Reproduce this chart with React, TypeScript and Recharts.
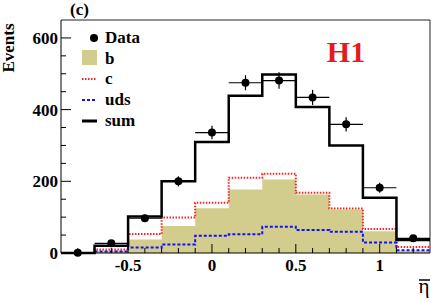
import {
  ComposedChart,
  Line,
  Area,
  Scatter,
  ErrorBar,
  XAxis,
  YAxis,
  ReferenceLine,
} from 'recharts'

// histogram bin edges (11 bins of width 0.2)
const BIN_EDGES = [-0.9, -0.7, -0.5, -0.3, -0.1, 0.1, 0.3, 0.5, 0.7, 0.9, 1.1, 1.3]

// per-bin contents
const SUM = [0, 20, 102, 200, 310, 439, 498, 407, 300, 154, 36]
const B = [0, 6, 38, 75, 125, 177, 205, 163, 121, 61, 6]
const C = [0, 10, 53, 99, 140, 210, 221, 168, 124, 67, 17]
const UDS = [0, 4, 15, 24, 48, 52, 73, 64, 59, 29, 8]

// data points at bin centres
const DATA_X = [-0.8, -0.6, -0.4, -0.2, 0, 0.2, 0.4, 0.6, 0.8, 1.0, 1.2]
const DATA_Y = [1, 27, 97, 200, 336, 475, 481, 434, 359, 182, 41]
const DATA_ERR = [1, 5, 10, 14, 19, 21, 23, 21, 20, 14, 6]
const X_HALF_WIDTH = 0.1

const X_TICKS = [-0.8, -0.7, -0.6, -0.5, -0.4, -0.3, -0.2, -0.1, 0, 0.1, 0.2, 0.3, 0.4, 0.5, 0.6, 0.7, 0.8, 0.9, 1.0, 1.1, 1.2]
const X_LABELS: Record<string, string> = { '-0.5': '-0.5', '0': '0', '0.5': '0.5', '1': '1' }
const Y_TICKS = [0, 50, 100, 150, 200, 250, 300, 350, 400, 450, 500, 550, 600]
const Y_LABELS: Record<string, string> = { '0': '0', '200': '200', '400': '400', '600': '600' }

const FONT = '"Liberation Serif", "DejaVu Serif", serif'
const B_COLOR = '#d3cd8d'
const C_COLOR = '#ff2020'
const UDS_COLOR = '#1010ff'
const H1_RED = '#e41b1b'

// step-histogram table: last edge repeats last bin so the step closes at 1.3
const histRows = BIN_EDGES.map((x, i) => {
  const k = Math.min(i, SUM.length - 1)
  return { x, sum: SUM[k], b: B[k], c: C[k], uds: UDS[k] }
})

const points = DATA_X.map((x, i) => ({ x, y: DATA_Y[i], ey: DATA_ERR[i], ex: X_HALF_WIDTH }))

function XTick(props: any) {
  const { x, y, payload } = props
  const key = String(Math.round(payload.value * 10) / 10)
  const label = X_LABELS[key]
  return (
    <g>
      <line x1={x} x2={x} y1={y} y2={y - (label ? 9 : 5)} stroke="#000" strokeWidth={1} />
      {label && (
        <text x={x} y={y + 18} textAnchor="middle" fontFamily={FONT} fontWeight="bold" fontSize={17} fill="#000">
          {label}
        </text>
      )}
    </g>
  )
}

function YTick(props: any) {
  const { x, y, payload } = props
  const label = Y_LABELS[String(payload.value)]
  return (
    <g>
      <line x1={x} x2={x + (label ? 10 : 5)} y1={y} y2={y} stroke="#000" strokeWidth={1} />
      {label && (
        <text x={x - 3} y={y + 6} textAnchor="end" fontFamily={FONT} fontWeight="bold" fontSize={17} fill="#000">
          {label}
        </text>
      )}
    </g>
  )
}

const dot = (p: any) => <circle cx={p.cx} cy={p.cy} r={4} fill="#000" />

export default function App() {
  return (
    <div style={{ position: 'absolute', left: 0, top: 0, width: 431, height: 302, background: '#fff' }}>
      <ComposedChart width={431} height={302} data={histRows} margin={{ top: 20, right: 1, bottom: 19, left: 6 }}>
        <XAxis
          dataKey="x"
          type="number"
          domain={[-0.9, 1.3]}
          ticks={X_TICKS}
          interval={0}
          tickLine={false}
          tickSize={0}
          tickMargin={0}
          tick={<XTick />}
          axisLine={{ stroke: '#000' }}
          height={30}
        />
        <YAxis
          type="number"
          domain={[0, 650]}
          ticks={Y_TICKS}
          interval={0}
          tickLine={false}
          tickSize={0}
          tickMargin={0}
          tick={<YTick />}
          axisLine={{ stroke: '#000' }}
          width={55}
        />
        <ReferenceLine y={650} stroke="#222" strokeWidth={1} />
        <ReferenceLine x={1.3} stroke="#222" strokeWidth={1} />
        <Area type="stepAfter" dataKey="b" fill={B_COLOR} fillOpacity={1} stroke="none" isAnimationActive={false} />
        <Line type="stepAfter" dataKey="c" stroke={C_COLOR} strokeWidth={2} strokeDasharray="1.5 1.5" dot={false} isAnimationActive={false} />
        <Line type="stepAfter" dataKey="uds" stroke={UDS_COLOR} strokeWidth={2} strokeDasharray="3 2" dot={false} isAnimationActive={false} />
        <Line type="stepAfter" dataKey="sum" stroke="#000" strokeWidth={2.5} dot={false} isAnimationActive={false} />
        <Scatter data={points} dataKey="y" shape={dot} isAnimationActive={false}>
          <ErrorBar dataKey="ex" direction="x" width={0} stroke="#000" strokeWidth={1.2} isAnimationActive={false} />
          <ErrorBar dataKey="ey" direction="y" width={0} stroke="#000" strokeWidth={1.2} isAnimationActive={false} />
        </Scatter>
      </ComposedChart>
      <svg
        width={431}
        height={302}
        style={{ position: 'absolute', left: 0, top: 0, pointerEvents: 'none' }}
        fontFamily={FONT}
        fontWeight="bold"
      >
        <text x={70} y={15} fontSize={17} fill="#000">(c)</text>
        <text x={14} y={48} fontSize={17} fill="#000" textAnchor="middle" transform="rotate(-90 14 48)">Events</text>
        <text x={346} y={62} fontSize={30} fill={H1_RED} textAnchor="middle">H1</text>
        <text x={424} y={293} fontSize={21} fontWeight="normal" fill="#000" textAnchor="middle">η</text>
        <line x1={419} x2={430} y1={280} y2={280} stroke="#000" strokeWidth={1.5} />

        <circle cx={94} cy={38} r={4} fill="#000" />
        <text x={105} y={43} fontSize={17} fill="#000">Data</text>
        <rect x={82} y={50} width={15} height={15} fill={B_COLOR} />
        <text x={105} y={64} fontSize={17} fill="#000">b</text>
        <line x1={82} x2={97} y1={79} y2={79} stroke={C_COLOR} strokeWidth={2} strokeDasharray="1.5 1.5" />
        <text x={105} y={84} fontSize={17} fill="#000">c</text>
        <line x1={82} x2={97} y1={100} y2={100} stroke={UDS_COLOR} strokeWidth={2} strokeDasharray="3 2" />
        <text x={105} y={105} fontSize={17} fill="#000">uds</text>
        <line x1={82} x2={97} y1={121} y2={121} stroke="#000" strokeWidth={3} />
        <text x={105} y={126} fontSize={17} fill="#000">sum</text>
      </svg>
    </div>
  )
}
